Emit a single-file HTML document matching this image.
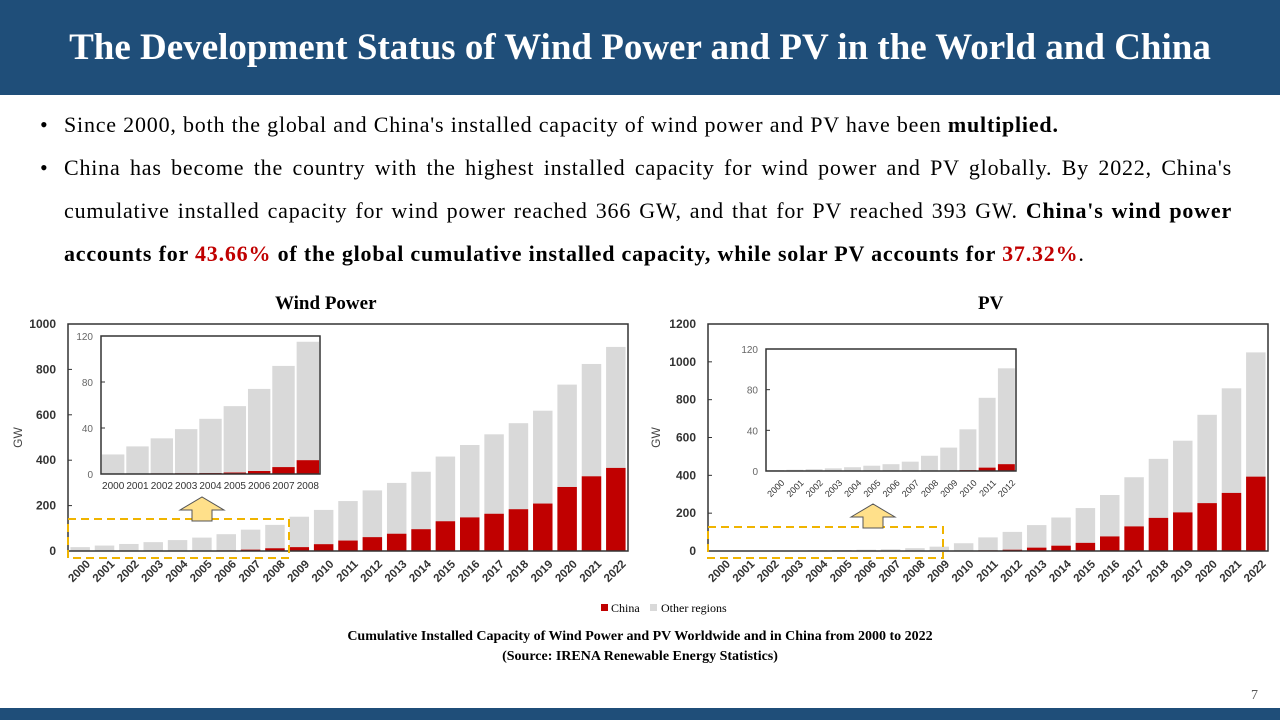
<!DOCTYPE html>
<html><head><meta charset="utf-8"><style>
body{margin:0;width:1280px;height:720px;overflow:hidden;background:#fff;position:relative;font-family:"Liberation Serif",serif}
#hdr{position:absolute;left:0;top:0;width:1280px;height:95px;background:#1f4e79;color:#fff;font-weight:bold;font-size:37px;text-align:center;line-height:95px}
#body{position:absolute;left:40px;top:103px;width:1192px;font-size:22px;letter-spacing:0.8px;line-height:43px;color:#000}
.li{position:relative;padding-left:24px;text-align:justify}
.li:before{content:"•";position:absolute;left:0}
.red{color:#c00000}
#foot{position:absolute;left:0;top:708px;width:1280px;height:12px;background:#1f4e79}
.t{position:absolute;font-weight:bold;font-size:19px}
</style></head><body>
<div id="hdr">The Development Status of Wind Power and PV in the World and China</div>
<div id="body">
<div class="li">Since 2000, both the global and China's installed capacity of wind power and PV have been <b>multiplied.</b></div>
<div class="li">China has become the country with the highest installed capacity for wind power and PV globally. By 2022, China's cumulative installed capacity for wind power reached 366 GW, and that for PV reached 393 GW. <b>China's wind power accounts for <span class="red">43.66%</span> of the global cumulative installed capacity, while solar PV accounts for <span class="red">37.32%</span></b>.</div>
</div>
<div class="t" style="left:275px;top:293px">Wind Power</div>
<div class="t" style="left:978px;top:293px">PV</div>
<svg id="chart" width="1280" height="720" style="position:absolute;left:0;top:0" font-family="Liberation Sans, sans-serif"></svg>
<div style="position:absolute;left:0;width:1280px;top:627px;text-align:center;font-weight:bold;font-size:14px;line-height:20px">Cumulative Installed Capacity of Wind Power and PV Worldwide and in China from 2000 to 2022<br>(Source: IRENA Renewable Energy Statistics)</div>
<div style="position:absolute;left:1251px;top:688px;font-size:14px;color:#555">7</div>
<div id="foot"></div>
<script>
const years = ["2000","2001","2002","2003","2004","2005","2006","2007","2008","2009","2010","2011","2012","2013","2014","2015","2016","2017","2018","2019","2020","2021","2022"];
const windTotal = [17,24,31,39,48,59,74,94,115,151,181,220,267,300,349,416,467,514,563,618,733,824,899];
const windChina = [0.3,0.4,0.5,0.6,0.8,1.3,2.6,6,12,17,30,46,61,76,96,131,148,164,184,209,282,329,366];
const pvTotal = [0.8,1.2,1.8,2.6,3.7,5.2,6.7,9.2,15,23,41,72,101,137,177,227,296,390,487,583,720,860,1050];
const pvChina = [0.02,0.03,0.04,0.05,0.06,0.07,0.08,0.1,0.14,0.3,0.8,3.3,6.7,17.7,28,43,77,130,175,204,253,307,393];
const windTicks = [0,200,400,600,800,1000];
const pvTicks = [0,200,400,600,800,1000,1200];
const insetTicks = [0,40,80,120];
const NS="http://www.w3.org/2000/svg";
const svg=document.getElementById('chart');
function mk(tag,at,parent){const e=document.createElementNS(NS,tag);for(const k in at)e.setAttribute(k,at[k]);(parent||svg).appendChild(e);return e;}
function chart(o){
  const g=mk('g',{});
  
  
  const n=o.cats.length, slot=(o.x1-o.x0)/n, bw=slot*o.bwr;
  const y=v=>o.y0-(v/o.max)*(o.y0-o.y1);
  const xc=i=>o.x0+slot*(i+0.5);
  for(let i=0;i<n;i++){
    const r=mk('rect',{x:xc(i)-bw/2,y:y(o.tot[i]),width:bw,height:o.y0-y(o.tot[i]),fill:'#d9d9d9'},g);
    
    
    const c=mk('rect',{x:xc(i)-bw/2,y:y(o.chn[i]),width:bw,height:o.y0-y(o.chn[i]),fill:'#c00000'},g);
    
    
    const t=mk('text',{'font-size':o.fs,fill:'#333','font-weight':o.inset?'normal':'bold'},g);
    if(o.rot){t.setAttribute('transform',`translate(${xc(i)+5},${o.y0+8}) rotate(-45)`);t.setAttribute('text-anchor','end');t.setAttribute('dy','0.7em');}
    else{t.setAttribute('x',xc(i));t.setAttribute('y',o.y0+15);t.setAttribute('text-anchor','middle');}
    
    
    t.textContent=o.cats[i];
  }
  const fr=mk('rect',{x:o.x0,y:o.box,width:o.x1-o.x0,height:o.y0-o.box,fill:'none',stroke:'#333','stroke-width':1.5},g);
  
  
  o.ticks.forEach(v=>{
    mk('line',{x1:o.x0,x2:o.x0+4,y1:y(v),y2:y(v),stroke:'#333'},g);
    const t=mk('text',{x:o.x0-(o.inset?8:12),y:y(v)+4,'text-anchor':'end','font-size':o.tfs,fill:o.inset?'#666':'#333','font-weight':o.inset?'normal':'bold'},g);
    
    
    t.textContent=v;
  });
  if(o.ylab){const t=mk('text',{transform:`translate(${o.ylab},${(o.y0+o.box)/2}) rotate(-90)`,'text-anchor':'middle','font-size':12,fill:'#444'},g);
    
    
    t.textContent='GW';}
}
function wbox(x0,x1,y0,y1,ax,ay,name){
  const r=mk('rect',{x:x0,y:y0,width:x1-x0,height:y1-y0,fill:'none',stroke:'#f0b400','stroke-width':2,'stroke-dasharray':'8,5'});
  
  
  const p=mk('polygon',{points:`${ax-22},${ay} ${ax},${ay-13} ${ax+22},${ay} ${ax+10},${ay} ${ax+10},${ay+11} ${ax-10},${ay+11} ${ax-10},${ay}`,fill:'#ffe08a',stroke:'#555','stroke-width':1});
  
  
}
chart({name:'wind-chart',cats:years,tot:windTotal,chn:windChina,x0:68,x1:628,y0:551,y1:324,box:324,max:1000,ticks:windTicks,bwr:0.8,fs:11.5,tfs:12,rot:true,ylab:22});
wbox(68,289,519,558,202,510,'wind');
mk('rect',{x:101,y:336,width:219,height:138,fill:'#fff'});
chart({name:'wind-inset',inset:true,cats:years.slice(0,9),tot:windTotal.slice(0,9),chn:windChina.slice(0,9),x0:101,x1:320,y0:474,y1:336,box:336,max:120,ticks:insetTicks,bwr:0.92,fs:10,tfs:10,rot:false});
chart({name:'pv-chart',cats:years,tot:pvTotal,chn:pvChina,x0:708,x1:1268,y0:551,y1:324,box:324,max:1200,ticks:pvTicks,bwr:0.8,fs:11.5,tfs:12,rot:true,ylab:660});
wbox(708,943,527,558,873,517,'pv');
mk('rect',{x:766,y:349,width:250,height:122,fill:'#fff'});
chart({name:'pv-inset',inset:true,cats:years.slice(0,13),tot:pvTotal.slice(0,13),chn:pvChina.slice(0,13),x0:766,x1:1016,y0:471,y1:349,box:349,max:120,ticks:insetTicks,bwr:0.88,fs:9,tfs:10,rot:true});
const lg=mk('g',{});


mk('rect',{x:601,y:604,width:7,height:7,fill:'#c00000'},lg);
const l1=mk('text',{x:611,y:612,'font-size':12,'font-family':'Liberation Serif, serif'},lg);l1.textContent='China';


mk('rect',{x:650,y:604,width:7,height:7,fill:'#d9d9d9'},lg);
const l2=mk('text',{x:661,y:612,'font-size':12,'font-family':'Liberation Serif, serif'},lg);l2.textContent='Other regions';


</script>
</body></html>
